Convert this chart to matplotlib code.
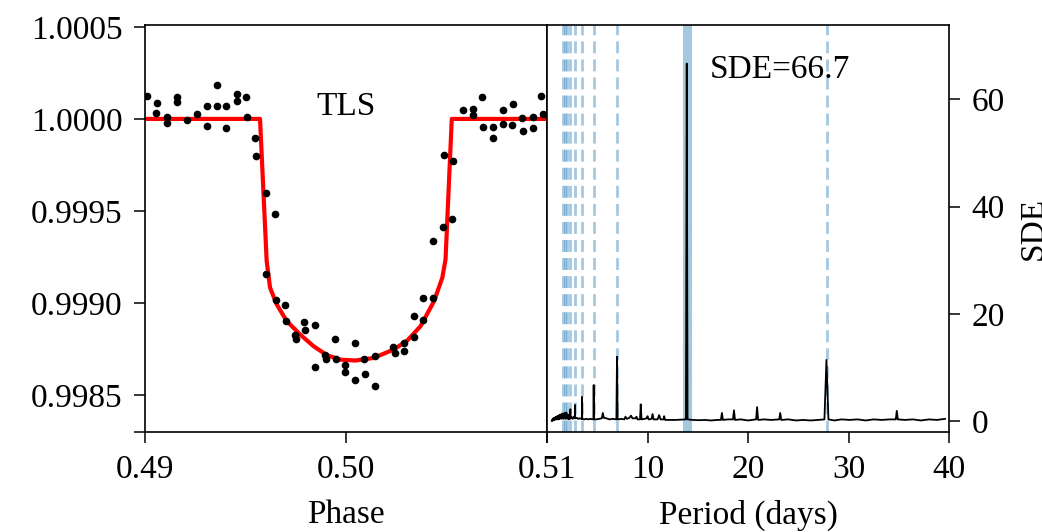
import matplotlib
matplotlib.use('Agg')
import matplotlib.pyplot as plt

# folded light curve (phase, relative flux)
phase_pts = [0.49012, 0.49058, 0.49055, 0.49111, 0.49111, 0.49161, 0.49161, 0.49207,
             0.4926, 0.49307, 0.49307, 0.49357, 0.4936, 0.49403, 0.49403, 0.49456,
             0.49456, 0.49502, 0.49506, 0.49549, 0.49552, 0.49602, 0.49645,
             0.50581, 0.50633, 0.50633, 0.50677, 0.50683, 0.5073, 0.50733, 0.50783,
             0.50783, 0.50829, 0.50826, 0.50876, 0.50882, 0.50929, 0.50932, 0.50972,
             0.50979, 0.50434, 0.50484, 0.50527, 0.50488, 0.50534,
             0.49602, 0.49652, 0.49695, 0.49701, 0.49791, 0.49798, 0.49844, 0.49748,
             0.49751, 0.49847, 0.49897, 0.49901, 0.49944, 0.4995, 0.49994, 0.49997,
             0.50043, 0.50043, 0.5009, 0.50096, 0.50143, 0.50143, 0.50235, 0.50242,
             0.50289, 0.50289, 0.50339, 0.50339, 0.50385, 0.50382, 0.50434]
flux_pts = [1.000123, 1.000086, 1.000032, 1.00001, 0.999977, 1.000119, 1.000092, 0.999996,
            1.000025, 1.000068, 0.999963, 1.000184, 1.000072, 1.000072, 0.999948, 1.000134,
            1.000097, 1.000119, 1.00001, 0.999894, 0.999799, 0.999599, 0.999483,
            1.000046, 1.000056, 1.000019, 1.000119, 0.999955, 0.999955, 0.999898, 1.000046,
            0.999974, 1.000083, 0.999966, 1.000007, 0.999937, 1.00001, 0.999948, 1.000123,
            1.000028, 0.999338, 0.999414, 0.999454, 0.999805, 0.99977,
            0.999156, 0.999015, 0.998989, 0.998902, 0.998898, 0.998854, 0.99888, 0.998824,
            0.998805, 0.998651, 0.99872, 0.998699, 0.998805, 0.998699, 0.998666, 0.998626,
            0.998784, 0.998584, 0.998696, 0.998615, 0.998711, 0.998548, 0.998764, 0.998727,
            0.998782, 0.998742, 0.998929, 0.998815, 0.999026, 0.998909, 0.999026]

# TLS model
model_phase = [0.49, 0.49572, 0.49605, 0.49622, 0.49655, 0.49705, 0.49771, 0.49838,
               0.49905, 0.49971, 0.50046, 0.50137, 0.50238, 0.50305, 0.50371, 0.50438,
               0.50479, 0.50495, 0.50526, 0.51]
model_flux = [1.0, 1.0, 0.99923, 0.999083, 0.998993, 0.998902, 0.99883, 0.998766,
              0.998717, 0.998693, 0.998688, 0.998702, 0.998748, 0.998797, 0.998875, 0.999011,
              0.999138, 0.999238, 1.0, 1.0]

# SDE periodogram
periods = [0.47, 0.52, 0.57, 0.62, 0.67, 0.72, 0.77, 0.82, 0.87, 0.92, 0.97, 1.02, 1.07,
           1.12, 1.17, 1.22, 1.27, 1.32, 1.37, 1.42, 1.47, 1.52, 1.57, 1.62, 1.67, 1.72,
           1.77, 1.82, 1.87, 1.92, 1.97, 2.02, 2.07, 2.12, 2.17, 2.22, 2.27,
           2.30, 2.32, 2.34, 2.45, 2.55, 2.65, 2.76, 2.78, 2.80, 2.95, 3.1, 3.25, 3.46, 3.48,
           3.50, 3.7, 3.9, 4.1, 4.3, 4.62, 4.64, 4.66, 4.9, 5.2, 5.45, 5.55, 5.65, 5.9, 6.2,
           6.5, 6.9, 6.96, 7.02, 7.4, 7.7, 7.8, 7.95, 8.2, 8.35, 8.5, 8.8, 8.9, 9.0, 9.25,
           9.32, 9.4, 9.7, 9.9, 10.0, 10.1, 10.4, 10.5, 10.6, 11.0, 11.15, 11.3, 11.6, 11.65,
           11.75, 12.2, 12.8, 13.4, 13.82, 13.9, 13.98, 14.5, 15.1, 15.7, 16.3, 16.9, 17.3,
           17.4, 17.5, 18.0, 18.5, 18.6, 18.7, 19.3, 20.0, 20.8, 20.9, 21.0, 21.6, 22.3, 23.1,
           23.2, 23.3, 24.0, 24.8, 25.5, 26.2, 27.0, 27.6, 27.8, 28.0, 28.6, 29.3, 30.1, 30.9,
           31.7, 32.5, 33.3, 34.1, 34.7, 34.8, 34.9, 35.6, 36.4, 37.2, 38.0, 38.8, 39.6]
sde = [0.0, 0.3, 0.1, 0.5, 0.2, 0.6, 0.2, 0.7, 0.3, 0.8, 0.3, 0.9, 0.4, 1.0, 0.3, 1.1,
       0.4, 1.2, 0.5, 1.2, 0.4, 1.4, 0.5, 1.3, 0.4, 1.5, 0.5, 1.4, 0.4, 1.6, 0.5, 1.2, 0.4,
       1.1, 0.3, 1.0, 0.4,
       0.5, 2.2, 0.5, 0.7, 0.4, 0.8, 0.5, 3.0, 0.5, 0.6, 0.4, 0.5, 0.4, 4.5,
       0.4, 0.3, 0.4, 0.3, 0.4, 0.3, 6.7, 0.3, 0.3, 0.4, 0.5, 1.5, 0.6, 0.5, 0.3,
       0.4, 0.3, 12.0, 0.3, 0.4, 0.3, 0.8, 0.4, 0.6, 1.0, 0.5, 0.5, 0.8, 0.3, 0.3,
       3.1, 0.3, 0.4, 0.5, 0.9, 0.3, 0.4, 1.3, 0.3, 0.3, 1.1, 0.3, 0.3, 0.9,
       0.2, 0.2, 0.2, 0.25, 0.3, 66.7, 0.3, 0.2, 0.15, 0.2, 0.1, 0.2, 0.2,
       1.5, 0.2, 0.3, 0.3, 2.0, 0.2, 0.3, 0.1, 0.3, 2.6, 0.2, 0.3, 0.2, 0.3,
       1.5, 0.2, 0.3, 0.1, 0.2, 0.1, 0.2, 0.3, 11.4, 0.3, 0.1, 0.3, 0.2, 0.3,
       0.1, 0.3, 0.2, 0.3, 0.3, 1.9, 0.3, 0.2, 0.3, 0.1, 0.3, 0.2, 0.4]

best_period = 13.92
sde_value = 66.7
harmonics = [2, 3, 4, 5, 6, 7, 8, 9]

plt.rcParams['font.family'] = ['Liberation Serif', 'DejaVu Serif']
plt.rcParams['font.size'] = 24

fig = plt.figure(figsize=(10.42, 5.32), dpi=100)
ax1 = fig.add_axes([0.1392, 0.188, 0.3858, 0.765])
ax2 = fig.add_axes([0.525, 0.188, 0.3858, 0.765])

for ax in (ax1, ax2):
    for s in ax.spines.values():
        s.set_linewidth(1.2)

# left: folded light curve
ax1.plot(phase_pts, flux_pts, 'o', color='black', ms=4.5, zorder=3)
ax1.plot(model_phase, model_flux, color='red', lw=3, zorder=2)
ax1.set_xlim(0.49, 0.51)
ax1.set_ylim(0.9983, 1.00051)
ax1.set_xticks([0.49, 0.50, 0.51])
ax1.set_xticklabels(['0.49', '0.50', '0.51'])
ax1.set_yticks([0.9985, 0.9990, 0.9995, 1.0000, 1.0005])
ax1.set_yticklabels(['0.9985', '0.9990', '0.9995', '1.0000', '1.0005'])
ax1.set_yticks([0.9983], minor=True)
ax1.tick_params(axis='both', which='both', direction='out', length=8, width=1.1, pad=8)
ax1.set_xlabel('Phase', labelpad=11)
ax1.text(0.5, 1.000064, 'TLS', ha='center', va='center')

# right: SDE periodogram
ax2.axvline(best_period, color='#1f77b4', alpha=0.4, lw=6.5, zorder=1)
for n in harmonics:
    ax2.axvline(n * best_period, color='#1f77b4', alpha=0.4, lw=2, ls=(0, (4.3, 2.2)), zorder=1)
    ax2.axvline(best_period / n, color='#1f77b4', alpha=0.4, lw=2, ls=(0, (4.3, 2.2)), zorder=1)
ax2.plot(periods, sde, color='black', lw=1.3, zorder=2)
ax2.set_xlim(0, 40)
ax2.set_ylim(-2.05, 73.9)
ax2.set_xticks([0, 10, 20, 30, 40])
ax2.set_xticklabels(['', '10', '20', '30', '40'])
ax2.set_yticks([0, 20, 40, 60])
ax2.yaxis.tick_right()
ax2.yaxis.set_label_position('right')
ax2.tick_params(axis='both', direction='out', length=8, width=1.1, pad=8)
ax2.set_xlabel('Period (days)', labelpad=11)
ax2.set_ylabel('SDE', labelpad=10)
ax2.text(16.2, 65.6, 'SDE=' + str(sde_value), ha='left', va='center')

fig.savefig('out.png', dpi=100)
